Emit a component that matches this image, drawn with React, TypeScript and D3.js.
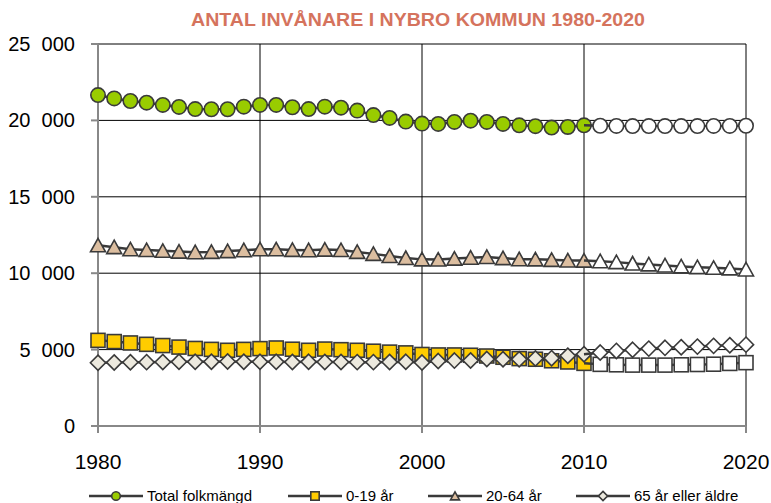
import React from 'react';
import * as d3 from 'd3';

// categories
const actualYears = [1980, 1981, 1982, 1983, 1984, 1985, 1986, 1987, 1988, 1989, 1990, 1991, 1992, 1993, 1994, 1995, 1996, 1997, 1998, 1999, 2000, 2001, 2002, 2003, 2004, 2005, 2006, 2007, 2008, 2009, 2010];
const projYears = [2011, 2012, 2013, 2014, 2015, 2016, 2017, 2018, 2019, 2020];

// series (actual 1980-2010, projection 2011-2020)
const totalActual = [21660, 21440, 21270, 21160, 21010, 20880, 20740, 20730, 20730, 20900, 21010, 21010, 20860, 20740, 20900, 20830, 20640, 20350, 20160, 19920, 19790, 19770, 19900, 19980, 19900, 19770, 19680, 19620, 19530, 19570, 19680];
const totalProj = [19650, 19640, 19630, 19630, 19630, 19630, 19630, 19640, 19640, 19650];

const youngActual = [5605, 5525, 5435, 5345, 5265, 5165, 5075, 5015, 4955, 5015, 5065, 5105, 5025, 4955, 5035, 4995, 4955, 4895, 4835, 4785, 4680, 4650, 4650, 4630, 4580, 4500, 4410, 4370, 4270, 4190, 4100];
const youngProj = [4035, 4005, 3985, 3985, 3985, 4005, 4025, 4045, 4095, 4145];

const workActual = [11825, 11705, 11565, 11515, 11465, 11415, 11375, 11395, 11445, 11505, 11565, 11565, 11525, 11505, 11545, 11515, 11395, 11265, 11125, 10995, 10905, 10895, 10955, 11015, 11065, 10985, 10915, 10905, 10875, 10835, 10825];
const workProj = [10785, 10725, 10635, 10575, 10505, 10445, 10395, 10355, 10315, 10245];

const oldActual = [4140, 4160, 4170, 4180, 4190, 4200, 4200, 4210, 4220, 4210, 4200, 4200, 4190, 4200, 4190, 4190, 4180, 4180, 4190, 4200, 4150, 4250, 4280, 4290, 4380, 4370, 4370, 4420, 4440, 4600, 4700];
const oldProj = [4805, 4915, 4985, 5065, 5115, 5155, 5195, 5245, 5285, 5325];

// ticks
const yTicks = [0, 5000, 10000, 15000, 20000, 25000];
const xTicks = [1980, 1990, 2000, 2010, 2020];

const seriesNames = ['Total folkmängd', '0-19 år', '20-64 år', '65 år eller äldre'];

const title = 'ANTAL INVÅNARE I NYBRO KOMMUN 1980-2020';

type Shape = 'circle' | 'square' | 'triangle' | 'diamond';

const W = 771;
const H = 503;
const margin = { left: 98, right: 25, top: 44, bottom: 77 };

const stroke = '#3a3a3a';
const font = '"Liberation Sans", Arial, sans-serif';

function Marker({ shape, x, y, fill, s = 1 }: { shape: Shape; x: number; y: number; fill: string; s?: number }) {
  if (shape === 'circle') {
    return <circle cx={x} cy={y} r={7.2 * s} fill={fill} stroke={stroke} strokeWidth={1.6} />;
  }
  if (shape === 'square') {
    const h = 7 * s;
    return <rect x={x - h} y={y - h} width={h * 2} height={h * 2} fill={fill} stroke={stroke} strokeWidth={1.6} />;
  }
  if (shape === 'triangle') {
    const p = `M${x},${y - 7 * s}L${x + 7.5 * s},${y + 6.5 * s}L${x - 7.5 * s},${y + 6.5 * s}Z`;
    return <path d={p} fill={fill} stroke={stroke} strokeWidth={1.6} strokeLinejoin="miter" />;
  }
  const d = 7.6 * s;
  const p = `M${x},${y - d}L${x + d},${y}L${x},${y + d}L${x - d},${y}Z`;
  return <path d={p} fill={fill} stroke={stroke} strokeWidth={1.6} />;
}

export default function App() {
  const x = d3.scaleLinear().domain([1980, 2020]).range([margin.left, W - margin.right]);
  const y = d3.scaleLinear().domain([0, 25000]).range([H - margin.bottom, margin.top]);

  const series = [
    { name: seriesNames[0], shape: 'circle' as Shape, fill: '#99cc00', actual: totalActual, proj: totalProj },
    { name: seriesNames[1], shape: 'square' as Shape, fill: '#ffcc00', actual: youngActual, proj: youngProj },
    { name: seriesNames[2], shape: 'triangle' as Shape, fill: '#dcbea0', actual: workActual, proj: workProj },
    { name: seriesNames[3], shape: 'diamond' as Shape, fill: '#ece9de', actual: oldActual, proj: oldProj },
  ];

  const line = d3.line<[number, number]>().x(d => x(d[0])).y(d => y(d[1]));
  const fmt = (v: number) => d3.format(',')(v).replace(/,/g, '\u2007');

  const plotLeft = x(1980);
  const plotRight = x(2020);
  const plotBottom = y(0);
  const plotTop = y(25000);

  const legendStarts = [89, 288, 428, 576];
  const legendY = 496;

  return (
    <svg width={W} height={H} style={{ position: 'absolute', left: 0, top: 0, background: '#fff' }} fontFamily={font}>
      <text x={418} y={26} textAnchor="middle" fill="#d5735d" fontSize={19} fontWeight="bold" textLength={454} lengthAdjust="spacingAndGlyphs">
        {title}
      </text>

      {/* grid */}
      {yTicks.filter(t => t > 0).map(t => (
        <line key={'gy' + t} x1={plotLeft} x2={plotRight} y1={y(t)} y2={y(t)} stroke="#000" strokeWidth={1} />
      ))}
      {xTicks.filter(t => t > 1980).map(t => (
        <line key={'gx' + t} x1={x(t)} x2={x(t)} y1={plotTop} y2={plotBottom} stroke="#000" strokeWidth={1} />
      ))}

      {/* axes */}
      <line x1={plotLeft} x2={plotLeft} y1={plotTop} y2={plotBottom + 7} stroke="#888" strokeWidth={2} />
      <line x1={plotLeft - 7} x2={plotRight} y1={plotBottom} y2={plotBottom} stroke="#888" strokeWidth={2} />
      {yTicks.map(t => (
        <g key={'yt' + t}>
          <line x1={plotLeft - 7} x2={plotLeft} y1={y(t)} y2={y(t)} stroke="#888" strokeWidth={2} />
          <text x={75} y={y(t) + 7} textAnchor="end" fontSize={20} fill="#000">{fmt(t)}</text>
        </g>
      ))}
      {xTicks.map(t => (
        <g key={'xt' + t}>
          <line x1={x(t)} x2={x(t)} y1={plotBottom} y2={plotBottom + 7} stroke="#888" strokeWidth={2} />
          <text x={x(t)} y={469} textAnchor="middle" fontSize={21} fill="#000">{t}</text>
        </g>
      ))}

      {/* actual series */}
      {series.map(s => {
        const pts = actualYears.map((yr, i) => [yr, s.actual[i]] as [number, number]);
        return (
          <g key={'a' + s.name}>
            <path d={line(pts) || ''} fill="none" stroke={stroke} strokeWidth={2.5} />
            {pts.map(p => (
              <Marker key={p[0]} shape={s.shape} x={x(p[0])} y={y(p[1])} fill={s.fill} />
            ))}
          </g>
        );
      })}

      {/* projections */}
      {series.map(s => {
        const last = actualYears.length - 1;
        const pts = [[actualYears[last], s.actual[last]] as [number, number]].concat(
          projYears.map((yr, i) => [yr, s.proj[i]] as [number, number])
        );
        return (
          <g key={'p' + s.name}>
            <path d={line(pts) || ''} fill="none" stroke={stroke} strokeWidth={2.5} />
            {pts.slice(1).map(p => (
              <Marker key={p[0]} shape={s.shape} x={x(p[0])} y={y(p[1])} fill="#fff" />
            ))}
          </g>
        );
      })}

      {/* legend */}
      {series.map((s, i) => {
        const x0 = legendStarts[i];
        return (
          <g key={'l' + s.name}>
            <line x1={x0} x2={x0 + 54} y1={legendY} y2={legendY} stroke={stroke} strokeWidth={2.5} />
            <Marker shape={s.shape} x={x0 + 27} y={legendY} fill={s.fill} s={0.6} />
            <text x={x0 + 58} y={legendY + 5} fontSize={15} fill="#000">{s.name}</text>
          </g>
        );
      })}
    </svg>
  );
}
